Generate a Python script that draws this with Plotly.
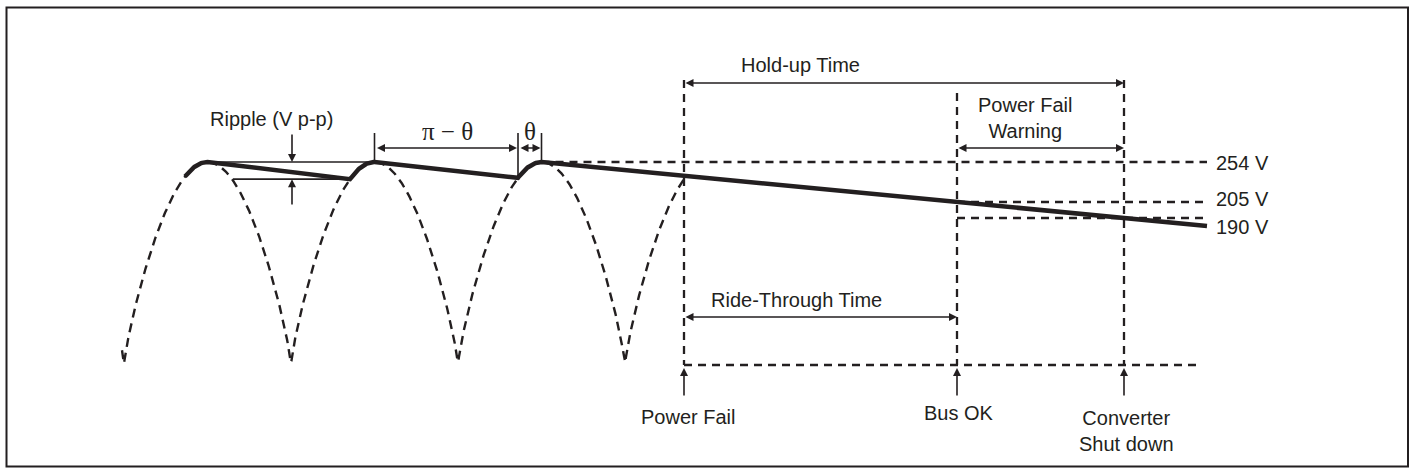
import numpy as np
import plotly.graph_objects as go

# ---- diagram data (schematic units: x to the right, y downward) ----
peak_x = [207.5, 374.5, 541.5]          # peaks of rectified line voltage
peak_y = 162                             # peak level (254 V)
trough_y = 365                           # zero level of rectified sine
wave_start_x = 124                       # first zero of rectified sine
half_period = 167                        # rectified half period
wave_end_x = 684                         # dashed sine stops at power fail
junction_x = [185, 350, 518]             # bulk cap voltage meets sine
decay_end = [1207, 226]                  # end of hold-up decay

event_x = [684, 957, 1124]
event_labels = ["Power Fail", "Bus OK", "Converter<br>Shut down"]
event_label_y = [417, 413, 431]
event_top_y = [80, 93, 80]

volt_labels = ["254 V", "205 V", "190 V"]
volt_line_y = [162, 202, 218]
volt_label_y = [163, 199, 227]
volt_line_x0 = [541.5, 957, 957]
volt_line_x1 = 1207

INK = "#231f20"
SANS = "Liberation Sans, Arial, Helvetica, sans-serif"
SERIF = "Liberation Serif, Times New Roman, serif"
DASH = "9px,6px"


def wave(x):
    x = np.asarray(x, dtype=float)
    s = np.abs(np.sin(np.pi * (x - wave_start_x) / half_period))
    return trough_y - (trough_y - peak_y) * s ** 0.8


fig = go.Figure()

# dashed rectified sine
xs = np.linspace(wave_start_x - 2, wave_end_x, 900)
fig.add_trace(go.Scatter(x=xs, y=wave(xs), mode="lines",
                         line=dict(color=INK, width=2.4, dash=DASH),
                         hoverinfo="skip"))

# dashed reference lines
def dline(x0, y0, x1, y1):
    fig.add_trace(go.Scatter(x=[x0, x1], y=[y0, y1], mode="lines",
                             line=dict(color=INK, width=2.3, dash="8px,6px"),
                             hoverinfo="skip"))

for xe, yt in zip(event_x, event_top_y):
    dline(xe, yt, xe, trough_y)
dline(event_x[0], trough_y, decay_end[0] - 9, trough_y)
for x0, yv in zip(volt_line_x0, volt_line_y):
    dline(x0, yv, volt_line_x1, yv)

# solid capacitor voltage
sx, sy = [], []
for i, (jx, px) in enumerate(zip(junction_x, peak_x)):
    cx = np.linspace(jx, px, 30)
    sx.extend(cx.tolist())
    sy.extend(wave(cx).tolist())
    if i + 1 < len(junction_x):
        nx = junction_x[i + 1]
        sx.append(nx)
        sy.append(float(wave(nx)))
sx.append(decay_end[0])
sy.append(decay_end[1])
fig.add_trace(go.Scatter(x=sx, y=sy, mode="lines",
                         line=dict(color=INK, width=4.5),
                         hoverinfo="skip"))

# thin solid helper lines
def sline(x0, y0, x1, y1, w=1.6):
    fig.add_trace(go.Scatter(x=[x0, x1], y=[y0, y1], mode="lines",
                             line=dict(color=INK, width=w),
                             hoverinfo="skip"))

ripple_x = 292
low_y = float(wave(junction_x[1]))
sline(peak_x[0], peak_y, peak_x[1], peak_y)
sline(233, low_y, junction_x[1], low_y)
sline(peak_x[1], 133, peak_x[1], peak_y)
sline(junction_x[2], 133, junction_x[2], float(wave(junction_x[2])))
sline(peak_x[2], 133, peak_x[2], peak_y)


def arrow(x, y, ax, ay, both=False):
    fig.add_annotation(x=x, y=y, ax=ax, ay=ay, xref="x", yref="y",
                       axref="x", ayref="y", text="", showarrow=True,
                       arrowhead=2, arrowsize=1.0, arrowwidth=1.6,
                       arrowcolor=INK, standoff=0, startstandoff=0,
                       arrowside="end+start" if both else "end",
                       startarrowhead=2, startarrowsize=1.0)


# ripple arrows
arrow(ripple_x, peak_y, ripple_x, 133)
arrow(ripple_x, low_y, ripple_x, 206)
# pi - theta and theta
arrow(junction_x[2] - 1, 148, peak_x[1] + 1, 148, both=True)
arrow(peak_x[2] - 1, 148, junction_x[2] + 1, 148, both=True)
# time spans
arrow(event_x[2], 83, event_x[0], 83, both=True)
arrow(event_x[2], 148, event_x[1], 148, both=True)
arrow(event_x[1], 317, event_x[0], 317, both=True)
# event arrows
for xe in event_x:
    arrow(xe, 368, xe, 397)


def label(x, y, t, size=20, family=SANS, xanchor="center"):
    fig.add_annotation(x=x, y=y, xref="x", yref="y", text=t, showarrow=False,
                       xanchor=xanchor, yanchor="middle",
                       font=dict(family=family, size=size, color=INK))


label(271, 119, "Ripple (V p-p)")
label(447, 131, "\u03c0 \u2212 \u03b8", size=25, family=SERIF)
label(530, 131, "\u03b8", size=25, family=SERIF)
label(800, 65, "Hold-up Time")
label(1025, 118, "Power Fail<br>Warning")
label(796, 300, "Ride-Through Time")
for xe, t, ly in zip(event_x, event_labels, event_label_y):
    label(xe + (4 if t == "Power Fail" else 2), ly, t)
for t, ly in zip(volt_labels, volt_label_y):
    label(1214, ly, t, xanchor="left")

# frame
fig.add_shape(type="rect", xref="x", yref="y", x0=6.5, y0=7.5, x1=1408, y1=466.5,
              line=dict(color=INK, width=2))

W, H = 1412, 472
fig.update_layout(
    width=W, height=H,
    margin=dict(l=0, r=0, t=0, b=0),
    paper_bgcolor="white", plot_bgcolor="white",
    showlegend=False,
    xaxis=dict(range=[0, W], visible=False, fixedrange=True),
    yaxis=dict(range=[H, 0], visible=False, fixedrange=True),
)

fig.write_html("out.html",
               config={"displayModeBar": False, "staticPlot": True},
               post_script="document.body.style.margin='0';"
                           "document.body.style.overflow='hidden';")
